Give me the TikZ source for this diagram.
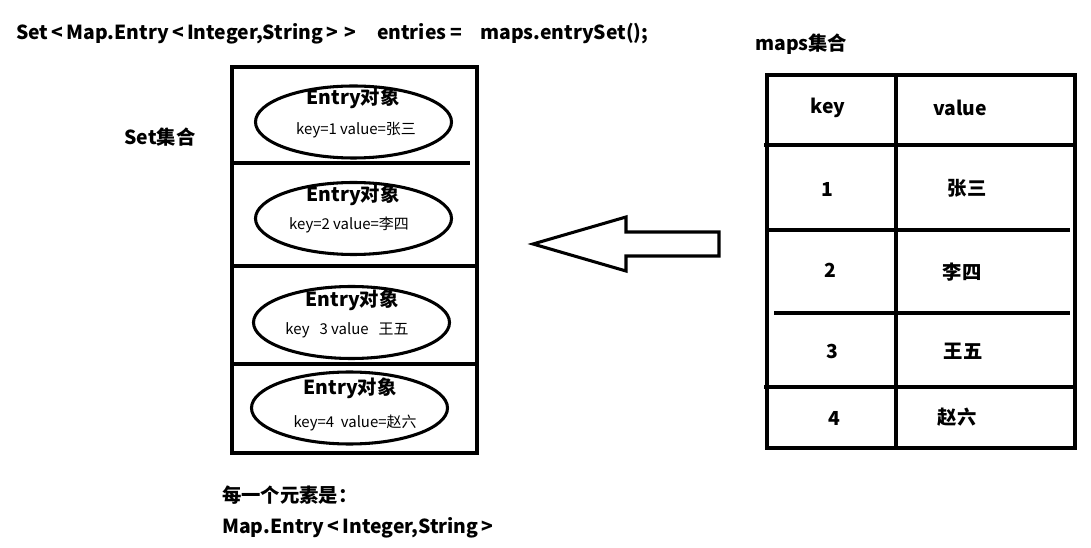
\documentclass[tikz,border=0pt]{standalone}
\usepackage{fontspec}
\setmainfont{Noto Sans CJK SC}
\usetikzlibrary{shapes.geometric}
\newcommand{\lt}{\,<\,}
\newcommand{\gt}{\,>\,}
\tikzset{
  thick line/.style={line width=2.3pt, line cap=rect},
  entryell/.style={draw, thick line, ellipse, minimum width=147pt, minimum height=54pt, inner sep=0pt},
  bigtext/.style={font=\fontsize{14.5pt}{16pt}\selectfont\bfseries, inner sep=0pt},
  smalltext/.style={font=\fontsize{11.2pt}{13pt}\selectfont, inner sep=0pt},
}
\begin{document}
\begin{tikzpicture}[x=0.75pt,y=-0.75pt]
\useasboundingbox (0,0) rectangle (1091,548);
% title
\node[bigtext, anchor=west] (title) at (16,34) {Set\lt Map.Entry\lt Integer,String\gt\gt\ \ \ \ entries =\ \ \ \ maps.entrySet();};
% left set box
\draw[thick line] (232,67) rectangle (477,453);
\draw[thick line] (232,163) -- (468,163);
\draw[thick line] (232,266) -- (477,266);
\draw[thick line] (232,364) -- (477,364);
\node[entryell] (e1) at (353.5,122) {};
\node[entryell] (e2) at (353.5,218.5) {};
\node[entryell] (e3) at (351.5,322.5) {};
\node[entryell] (e4) at (349.5,408) {};
\node[bigtext] (t1) at (353,98) {Entry对象};
\node[bigtext] (t2) at (353,195) {Entry对象};
\node[bigtext] (t3) at (352,300) {Entry对象};
\node[bigtext] (t4) at (350,388) {Entry对象};
\node[smalltext] (k1) at (356,130) {key=1 value=张三};
\node[smalltext] (k2) at (349,225) {key=2 value=李四};
\node[smalltext] (k3) at (347,330) {key\ \ \ 3 value\ \ \ 王五};
\node[smalltext] (k4) at (355,423) {key=4\ \ value=赵六};
\node[bigtext] (setlabel) at (160,137) {Set集合};
% arrow
\draw[thick line, line join=miter] (533,244) -- (626,217) -- (626,232) -- (719,232) -- (719,256) -- (626,256) -- (626,271) -- cycle;
% maps table
\node[bigtext, anchor=west] (mapslabel) at (755,44) {maps集合};
\draw[thick line] (767,75) rectangle (1075,448);
\draw[thick line] (896,75) -- (896,448);
\draw[thick line] (766,145) -- (1071,145);
\draw[thick line] (767,230) -- (1068,230);
\draw[thick line] (776,313) -- (1068,313);
\draw[thick line] (766,387) -- (1073,387);
\node[bigtext] (hk) at (828,108) {key};
\node[bigtext] (hv) at (960,108) {value};
\node[bigtext] (r1k) at (827,189) {1};
\node[bigtext] (r1v) at (967,188) {张三};
\node[bigtext] (r2k) at (830,270) {2};
\node[bigtext] (r2v) at (962,272) {李四};
\node[bigtext] (r3k) at (832,351) {3};
\node[bigtext] (r3v) at (963,351) {王五};
\node[bigtext] (r4k) at (834,418) {4};
\node[bigtext] (r4v) at (957,417) {赵六};
% bottom note
\node[bigtext, anchor=west] (note1) at (222,495) {每一个元素是：};
\node[bigtext, anchor=west] (note2) at (222,528) {Map.Entry\lt Integer,String\gt};
\end{tikzpicture}
\end{document}
